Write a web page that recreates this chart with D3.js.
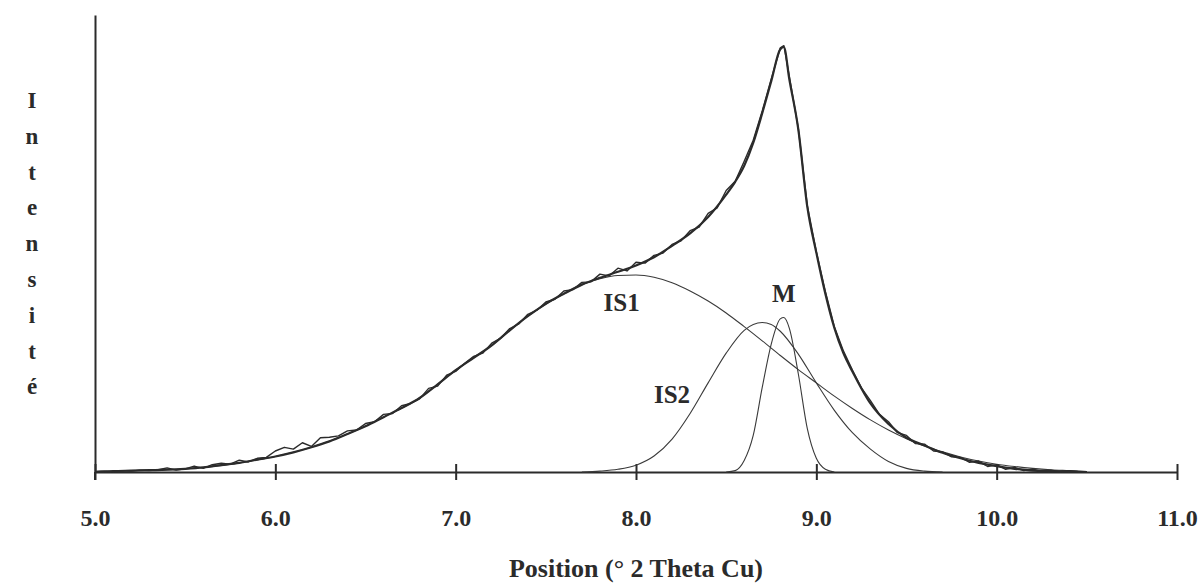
<!DOCTYPE html>
<html><head><meta charset="utf-8">
<script src="https://cdn.jsdelivr.net/npm/d3@7"></script>
<style>body{margin:0;background:#fff}svg{display:block}</style>
</head><body>
<svg id="chart" width="1202" height="583"></svg>
<script>
// ---- data ----
const xTickValues = [5, 6, 7, 8, 9, 10, 11];
const xTickLabels = ["5.0", "6.0", "7.0", "8.0", "9.0", "10.0", "11.0"];
const xTitle = "Position (° 2 Theta Cu)";
const yTitle = "Intensité";
const peakLabels = ["IS1", "IS2", "M"];
const peakLabelPos = [7.92, 8.20, 8.82];
const peakLabelInt = [35.2, 15.1, 37.2];

// observed pattern (noisy)
const obsPos = [5.00,5.05,5.10,5.15,5.20,5.25,5.30,5.35,5.40,5.45,5.50,5.55,5.60,5.65,5.70,5.75,5.80,5.85,5.90,5.95,
6.00,6.05,6.10,6.15,6.20,6.25,6.30,6.35,6.40,6.45,6.50,6.55,6.60,6.65,6.70,6.75,6.80,6.85,6.90,6.95,
7.00,7.05,7.10,7.15,7.20,7.25,7.30,7.35,7.40,7.45,7.50,7.55,7.60,7.65,7.70,7.75,7.80,7.85,7.90,7.95,
8.00,8.05,8.10,8.15,8.20,8.25,8.30,8.35,8.40,8.45,8.50,8.55,8.60,8.65,8.70,8.75,8.80,8.82,8.85,8.90,8.95,
9.00,9.05,9.10,9.15,9.20,9.25,9.30,9.35,9.40,9.45,9.50,9.55,9.60,9.65,9.70,9.75,9.80,9.85,9.90,9.95,
10.00,10.05,10.10,10.15,10.20,10.25,10.30,10.35,10.40,10.45,10.50];
const obsInt = [0.1,0.2,0.1,0.3,0.2,0.4,0.3,0.5,0.9,0.4,0.7,1.3,0.8,1.6,1.9,1.7,2.6,2.2,3.0,3.2,
4.6,5.4,5.0,6.4,5.6,7.5,7.6,7.9,9.0,9.2,10.6,11.0,12.6,12.8,14.5,15.0,16.0,18.3,18.8,21.2,
22.0,23.8,25.3,26.0,28.2,29.3,31.4,32.4,34.5,35.4,37.2,37.8,39.6,39.9,41.5,41.6,43.3,42.9,44.6,44.0,
45.9,45.7,47.4,47.9,49.8,50.6,52.8,53.6,56.6,57.8,61.6,63.6,68.0,72.6,79.0,86.0,92.8,93.3,86.6,75.2,58.3,
48.2,39.5,31.8,26.5,22.3,18.4,15.6,12.6,11.0,8.6,8.0,6.2,6.1,4.6,4.4,3.3,3.2,2.1,2.4,1.2,
1.6,0.6,1.0,0.3,0.6,0.2,0.4,0.1,0.3,0.1,0.0];

// fitted sum profile
const fitPos = [5.0,5.1,5.2,5.3,5.4,5.5,5.6,5.7,5.8,5.9,6.0,6.1,6.2,6.3,6.4,6.5,6.6,6.7,6.8,6.9,
7.0,7.1,7.2,7.3,7.4,7.5,7.6,7.7,7.8,7.9,8.0,8.1,8.2,8.3,8.4,8.5,8.55,8.6,8.65,8.7,8.75,8.8,8.82,8.85,8.9,8.95,
9.0,9.05,9.1,9.15,9.2,9.3,9.4,9.5,9.6,9.7,9.8,9.9,10.0,10.1,10.2,10.3,10.4,10.5];
const fitInt = [0.0,0.2,0.3,0.4,0.5,0.7,1.0,1.5,2.0,2.7,3.4,4.3,5.4,6.7,8.3,10.0,12.0,14.0,16.2,19.2,
22.3,25.0,27.7,31.0,34.1,36.8,39.0,41.0,42.5,43.8,45.2,47.0,49.5,52.2,55.8,60.7,63.5,67.0,72.0,78.5,85.5,92.5,93.0,86.0,75.0,58.0,
48.0,39.0,31.5,26.0,22.0,15.0,10.5,7.5,5.8,4.2,3.0,2.0,1.3,0.7,0.3,0.2,0.1,0.0];

// component IS1
const is1Pos = [5.0,5.2,5.4,5.6,5.8,6.0,6.2,6.4,6.6,6.8,7.0,7.2,7.4,7.6,7.7,7.8,7.9,8.0,8.1,8.2,8.3,8.4,8.5,8.6,8.7,8.8,8.9,
9.0,9.1,9.2,9.3,9.4,9.5,9.6,9.7,9.8,9.9,10.0,10.1,10.2,10.3,10.4,10.5];
const is1Int = [0.0,0.3,0.5,1.0,2.0,3.4,5.4,8.3,12.0,16.2,22.3,27.7,34.1,39.0,41.0,42.3,43.0,43.1,42.6,41.4,39.6,37.4,34.8,31.8,28.7,25.5,22.4,
19.5,16.6,13.9,11.4,9.2,7.3,5.7,4.4,3.3,2.4,1.7,1.2,0.8,0.5,0.3,0.1];

// component IS2
const is2Pos = [7.7,7.8,7.9,8.0,8.1,8.2,8.3,8.4,8.5,8.6,8.7,8.75,8.8,8.9,9.0,9.1,9.2,9.3,9.4,9.5,9.6,9.7];
const is2Int = [0.0,0.2,0.6,1.5,3.5,7.2,12.8,19.5,26.0,31.0,32.7,32.3,30.8,25.8,19.5,13.5,8.6,5.0,2.3,0.8,0.2,0.0];

// component M
const mPos = [8.50,8.55,8.60,8.65,8.70,8.75,8.80,8.82,8.85,8.90,8.95,9.00,9.05,9.10];
const mInt = [0.0,0.3,2.5,8.0,18.5,28.0,33.5,33.8,31.5,21.5,9.5,3.0,0.6,0.0];

// ---- drawing ----
const svg = d3.select("#chart");
const ink = "#2b2b2b";
const font = "'Liberation Serif','Times New Roman',serif";

const x = d3.scaleLinear().domain([5, 11]).range([95, 1177]);
const y = d3.scaleLinear().domain([0, 100]).range([472, 15]);

const zip = (a, b) => a.map((v, i) => [v, b[i]]);
const smooth = d3.line().x(d => x(d[0])).y(d => y(d[1])).curve(d3.curveMonotoneX);
const raw = d3.line().x(d => x(d[0])).y(d => y(d[1])).curve(d3.curveLinear);

// axes
const xAxis = d3.axisBottom(x).tickValues(xTickValues).tickFormat((d, i) => xTickLabels[i])
  .tickSizeInner(7).tickSizeOuter(0);
const gx = svg.append("g").attr("transform", `translate(0,${y(0)})`).call(xAxis);
gx.select(".domain").attr("stroke", ink).attr("stroke-width", 2);
gx.selectAll(".tick line").attr("stroke", ink).attr("stroke-width", 2).attr("y1", -8).attr("y2", 8);
gx.selectAll(".tick text").attr("fill", ink).attr("font-family", font).attr("font-weight", "bold")
  .attr("font-size", 24).attr("y", 54).attr("dy", 0);

const yAxis = d3.axisLeft(y).tickValues([]).tickSizeOuter(0);
const gy = svg.append("g").attr("transform", `translate(${x(5)},0)`).call(yAxis);
gy.select(".domain").attr("stroke", ink).attr("stroke-width", 2);
gy.append("line").attr("x1", 0).attr("x2", 0).attr("y1", y(0)).attr("y2", y(0) + 8)
  .attr("stroke", ink).attr("stroke-width", 2);

// components
[[is1Pos, is1Int], [is2Pos, is2Int], [mPos, mInt]].forEach(([p, v]) => {
  svg.append("path").datum(zip(p, v)).attr("d", smooth)
    .attr("fill", "none").attr("stroke", "#3a3a3a").attr("stroke-width", 1.1);
});

// observed
svg.append("path").datum(zip(obsPos, obsInt)).attr("d", raw)
  .attr("fill", "none").attr("stroke", ink).attr("stroke-width", 1.4).attr("stroke-linejoin", "round");
// fit
svg.append("path").datum(zip(fitPos, fitInt)).attr("d", smooth)
  .attr("fill", "none").attr("stroke", ink).attr("stroke-width", 2.2);

// peak labels
svg.selectAll("text.peak").data(peakLabels).enter().append("text").attr("class", "peak")
  .attr("x", (d, i) => x(peakLabelPos[i])).attr("y", (d, i) => y(peakLabelInt[i]))
  .attr("text-anchor", "middle").attr("font-family", font).attr("font-weight", "bold")
  .attr("font-size", 25).attr("fill", ink).text(d => d);

// axis titles
svg.append("text").attr("x", x(8)).attr("y", 577).attr("text-anchor", "middle")
  .attr("font-family", font).attr("font-weight", "bold").attr("font-size", 26).attr("fill", ink)
  .text(xTitle);

const letters = Array.from(yTitle);
svg.append("g").selectAll("text").data(letters).enter().append("text")
  .attr("x", 32).attr("y", (d, i) => 108 + i * 35.8).attr("text-anchor", "middle")
  .attr("font-family", font).attr("font-weight", "bold").attr("font-size", 23).attr("fill", ink)
  .text(d => d);
</script>
</body></html>
